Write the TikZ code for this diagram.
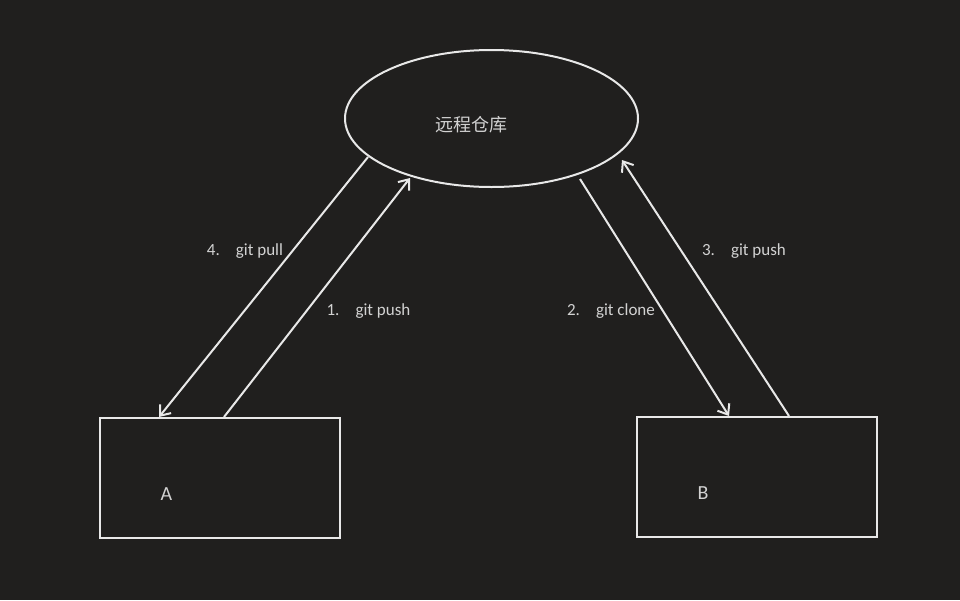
\documentclass[tikz,border=0pt]{standalone}
\usepackage{fontspec}
\setmainfont{Carlito}
\newfontfamily\cjk{Noto Sans CJK SC}
\usetikzlibrary{arrows.meta,shapes.geometric,calc}
\definecolor{bg}{HTML}{201F1E}
\definecolor{ln}{HTML}{E8E8E8}
\definecolor{tx}{HTML}{D2D2D2}
\begin{document}
\begin{tikzpicture}[x=1pt,y=-1pt,
  shp/.style={draw=ln,line width=2pt,inner sep=0pt},
  lbl/.style={text=tx,font=\fontsize{17}{20}\selectfont,inner sep=0pt},
  big/.style={text=tx,font=\fontsize{20}{24}\selectfont,inner sep=0pt},
  conn/.style={draw=ln,line width=2pt,-{Straight Barb[length=9pt,width=14pt,line width=2pt]}}]
\fill[bg] (0,0) rectangle (960,600);
\useasboundingbox (0,0) rectangle (960,600);
\node[shp,ellipse,minimum width=293pt,minimum height=137pt] (R) at (491.5,118.5) {};
\node[text=tx,inner sep=0pt,font=\cjk\fontsize{18}{22}\selectfont] (Rl) at (471.5,125) {远程仓库};
\node[shp,rectangle,minimum width=240pt,minimum height=120pt] (A) at (220,478) {};
\node[shp,rectangle,minimum width=240pt,minimum height=120pt] (B) at (757,477) {};
\node[big] (Al) at (166.5,494) {A};
\node[big] (Bl) at (703,493) {B};
\coordinate (A1) at ($(A.north west)+(60,0)$);
\coordinate (A2) at ($(A.north west)+(125,0)$);
\coordinate (B1) at ($(B.north west)+(93,0)$);
\coordinate (B2) at ($(B.north west)+(153,0)$);
\coordinate (R1) at ($(R.center)+(-123.5,38.5)$);
\coordinate (R2) at ($(R.center)+(-81.5,59.5)$);
\coordinate (R3) at ($(R.center)+(88.5,60.5)$);
\coordinate (R4) at ($(R.center)+(130.5,41.5)$);
\draw[conn] (R1) -- (A1);
\draw[conn] (A2) -- (R2);
\draw[conn] (R3) -- (B1);
\draw[conn] (B2) -- (R4);
\node[lbl] (L4) at (245,251) {4.\hspace{16pt}git pull};
\node[lbl] (L1) at (368.5,311) {1.\hspace{16pt}git push};
\node[lbl] (L2) at (611,311) {2.\hspace{16pt}git clone};
\node[lbl] (L3) at (744,251) {3.\hspace{16pt}git push};
\end{tikzpicture}
\end{document}
